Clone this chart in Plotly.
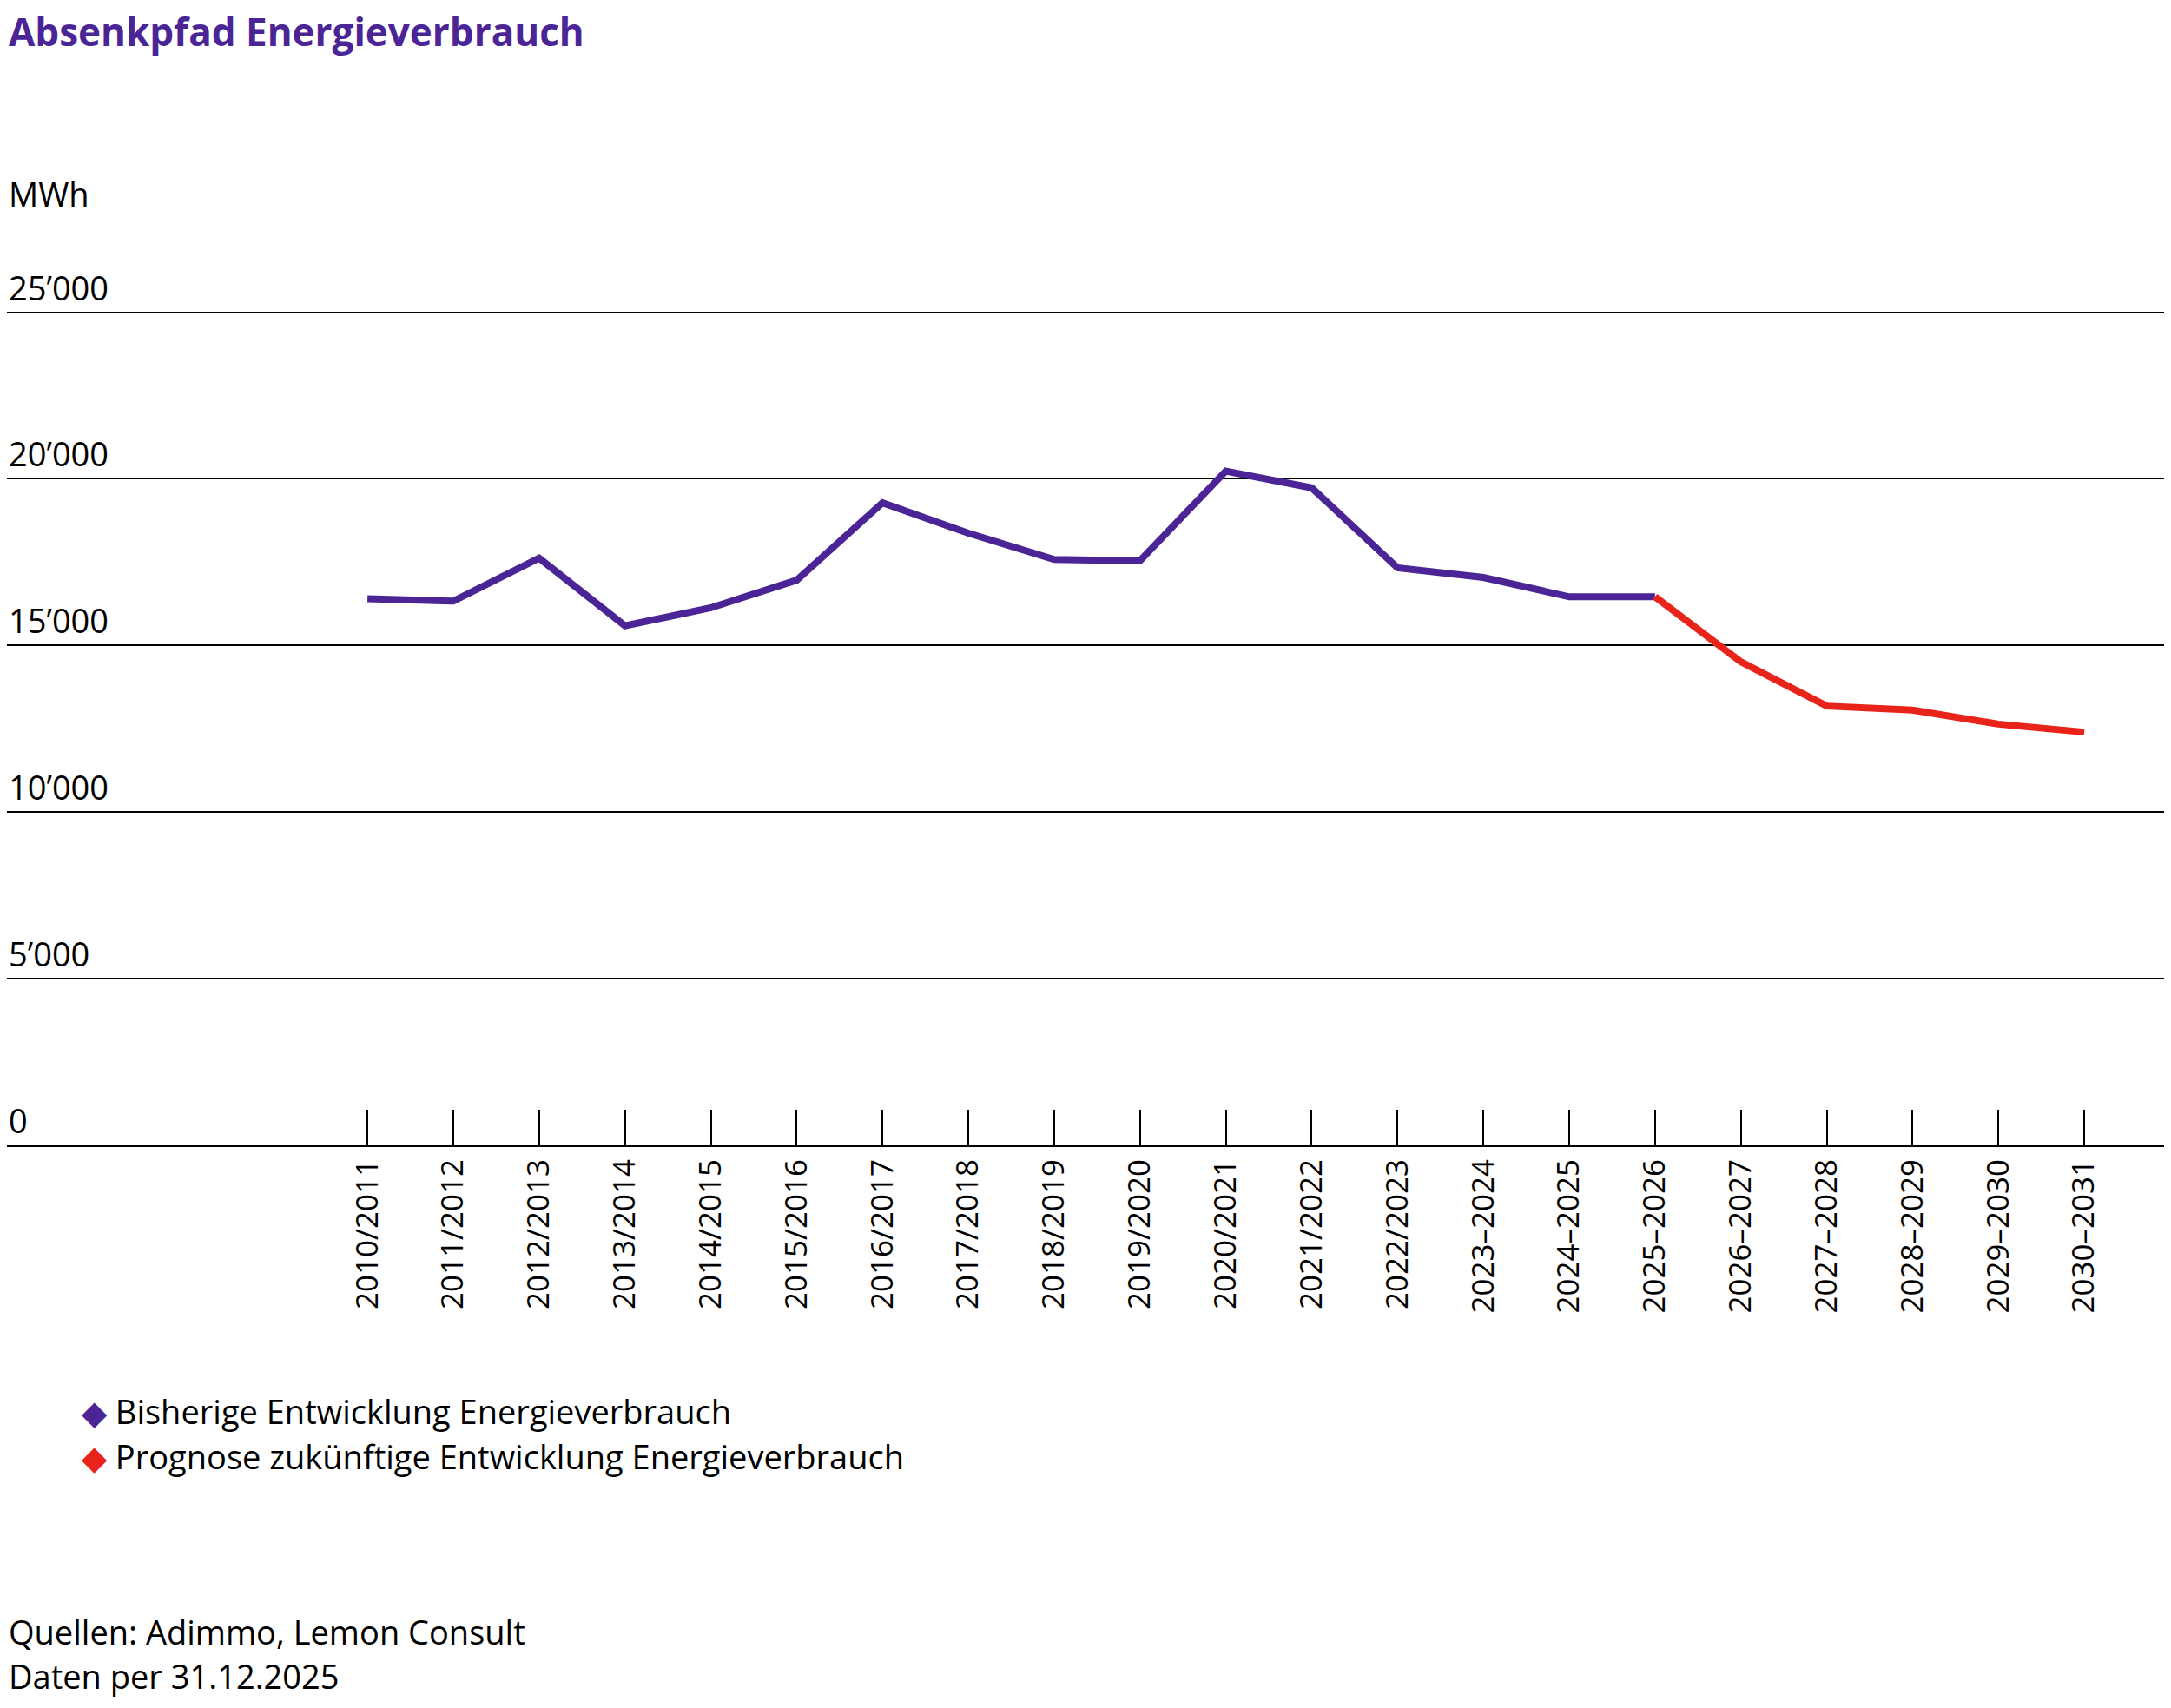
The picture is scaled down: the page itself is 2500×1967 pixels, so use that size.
import plotly.graph_objects as go

periods = ["2010/2011", "2011/2012", "2012/2013", "2013/2014", "2014/2015", "2015/2016",
           "2016/2017", "2017/2018", "2018/2019", "2019/2020", "2020/2021", "2021/2022",
           "2022/2023", "2023–2024", "2024–2025", "2025–2026", "2026–2027", "2027–2028",
           "2028–2029", "2029–2030", "2030–2031"]
history = [16400, 16330, 17620, 15590, 16130, 16960, 19280, 18370, 17580, 17540,
           20230, 19730, 17330, 17040, 16460, 16460]
forecast = [16460, 14510, 13180, 13060, 12640, 12400]
y_ticks = [0, 5000, 10000, 15000, 20000, 25000]
y_labels = ["0", "5’000", "10’000", "15’000", "20’000", "25’000"]

purple = "#4b2596"
red = "#e8231a"
font = "Open Sans"

x_hist = list(range(len(history)))
x_fc = list(range(len(history) - 1, len(periods)))

fig = go.Figure()
fig.add_trace(go.Scatter(x=x_hist, y=history, mode="lines",
                         line=dict(color=purple, width=8), showlegend=False))
fig.add_trace(go.Scatter(x=x_fc, y=forecast, mode="lines",
                         line=dict(color=red, width=8), showlegend=False))

for v, lab in zip(y_ticks, y_labels):
    fig.add_annotation(x=0, xref="paper", y=v, yref="y", text=lab, showarrow=False,
                       xanchor="left", yanchor="middle", yshift=29,
                       font=dict(size=38, color="black", family=font))

def ann(text, x, y, size=38, color="black"):
    fig.add_annotation(x=x, y=y, xref="paper", yref="paper", text=text, showarrow=False,
                       xanchor="left", yanchor="middle",
                       font=dict(size=size, color=color, family=font))

ann("<b>Absenkpfad Energieverbrauch</b>", 0, 1.335, size=44, color=purple)
ann("MWh", 0, 1.14)
ann(f"<span style='color:{purple}'>◆</span> Bisherige Entwicklung Energieverbrauch", 0.034, -0.318)
ann(f"<span style='color:{red}'>◆</span> Prognose zukünftige Entwicklung Energieverbrauch", 0.034, -0.373)
ann("Quellen: Adimmo, Lemon Consult", 0, -0.583)
ann("Daten per 31.12.2025", 0, -0.636)

fig.update_xaxes(range=[-4.2, 20.93], tickmode="array", tickvals=list(range(len(periods))),
                 ticktext=periods, tickangle=-90, ticks="inside", ticklen=41, tickwidth=2,
                 tickcolor="black", showgrid=False, zeroline=False, showline=True,
                 linecolor="black", linewidth=2,
                 tickfont=dict(size=35, color="black", family=font))
fig.update_yaxes(range=[0, 25040], tickvals=y_ticks, showticklabels=False, showgrid=True,
                 gridcolor="black", gridwidth=2, zeroline=False)
fig.update_layout(width=2484, height=1951, plot_bgcolor="white", paper_bgcolor="white",
                  margin=dict(l=0, r=0, t=350, b=640), font=dict(family=font))
fig.write_html("out.html")
